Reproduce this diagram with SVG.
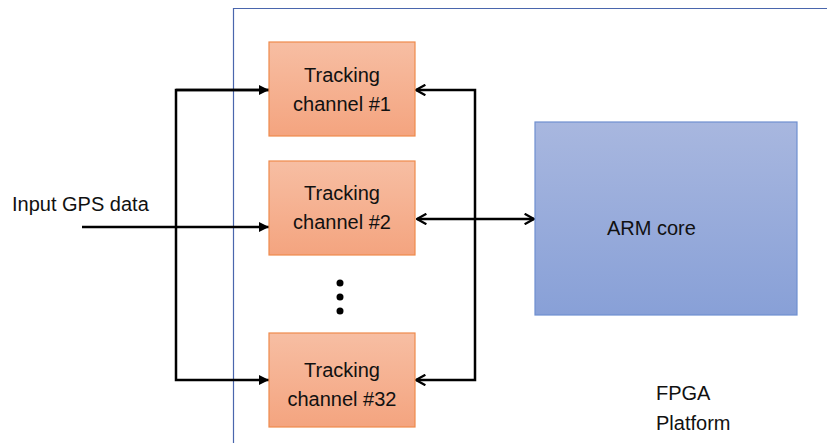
<svg xmlns="http://www.w3.org/2000/svg" width="827" height="443" viewBox="0 0 827 443">
<defs>
<linearGradient id="gOr" x1="0" y1="0" x2="0" y2="1"><stop offset="0" stop-color="#f7bea3"/><stop offset="1" stop-color="#f4a47f"/></linearGradient>
<linearGradient id="gBl" x1="0" y1="0" x2="0" y2="1"><stop offset="0" stop-color="#a8b7df"/><stop offset="1" stop-color="#88a0d7"/></linearGradient>
<marker id="tri" viewBox="0 0 10 10" refX="10" refY="5" markerWidth="4" markerHeight="4" orient="auto" markerUnits="strokeWidth"><path d="M0,0 L10,5 L0,10 Z" fill="#000"/></marker>
<marker id="chev" viewBox="0 0 12 12" refX="11" refY="6" markerWidth="5" markerHeight="5" orient="auto-start-reverse" markerUnits="strokeWidth"><path d="M2,1 L11,6 L2,11" fill="none" stroke="#000" stroke-width="2.2"/></marker>
</defs>
<style>
.ch{fill:url(#gOr);stroke:#ee8a4c;stroke-width:1.2}
.t{font-family:"Liberation Sans",Arial,sans-serif;font-size:20px;fill:#111}
.c{fill:none;stroke:#000;stroke-width:2.5}
</style>
<rect width="827" height="443" fill="#fff"/>
<g id="fpga">
<path d="M233.5,443 V8.5 H827" fill="none" stroke="#4a66ad" stroke-width="1.2"/>
<text class="t" x="656" y="400">FPGA</text>
<text class="t" x="656" y="430">Platform</text>
</g>
<g id="connectors">
<line class="c" x1="82" y1="227" x2="269" y2="227" marker-end="url(#tri)"/>
<path class="c" d="M269,90 H176 V380 H269" marker-end="url(#tri)"/>
<line class="c" x1="176" y1="90" x2="269" y2="90" marker-end="url(#tri)"/>
<path class="c" d="M416,90 H475 V380 H416" marker-start="url(#chev)" marker-end="url(#chev)"/>
<line class="c" x1="417" y1="219" x2="534" y2="219" marker-start="url(#chev)" marker-end="url(#chev)"/>
</g>
<g id="input-label"><text class="t" x="12" y="211">Input GPS data</text></g>
<g id="ch1"><rect class="ch" x="269" y="42" width="146" height="94"/>
<text class="t" text-anchor="middle" x="342" y="82">Tracking</text><text class="t" text-anchor="middle" x="342" y="111">channel #1</text></g>
<g id="ch2"><rect class="ch" x="269" y="161" width="146" height="94"/>
<text class="t" text-anchor="middle" x="342" y="200">Tracking</text><text class="t" text-anchor="middle" x="342" y="229">channel #2</text></g>
<g id="ch32"><rect class="ch" x="269" y="333" width="146" height="94"/>
<text class="t" text-anchor="middle" x="342" y="377">Tracking</text><text class="t" text-anchor="middle" x="342" y="406">channel #32</text></g>
<g id="dots" fill="#000"><circle cx="340" cy="283" r="3.5"/><circle cx="340" cy="297" r="3.5"/><circle cx="340" cy="311" r="3.5"/></g>
<g id="arm"><rect x="535" y="122" width="262" height="193" fill="url(#gBl)" stroke="#6f8fd0" stroke-width="1.2"/>
<text class="t" x="607" y="235">ARM core</text></g>
</svg>
